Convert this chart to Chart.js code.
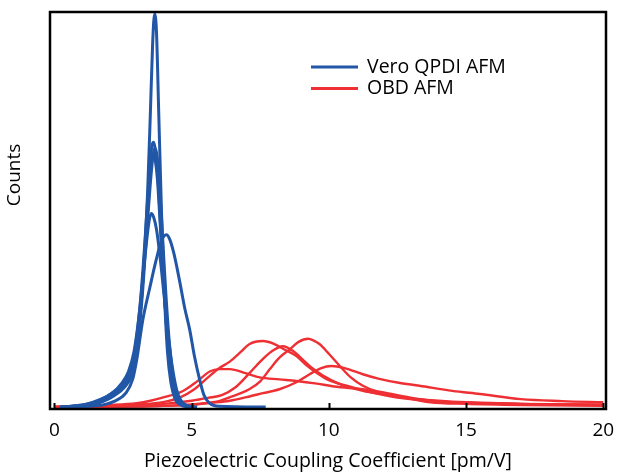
<!DOCTYPE html>
<html>
<head>
<meta charset="utf-8">
<script src="https://cdn.jsdelivr.net/npm/chart.js@4"></script>
<style>
  html, body { margin: 0; padding: 0; background: #fff; }
  #wrap { width: 617px; height: 474px; }
</style>
</head>
<body>
<div id="wrap"><canvas id="chart" width="617" height="474"></canvas></div>
<script>
// Piezo coupling histograms: Vero QPDI (blue, narrow) vs OBD (red, broad).
// Each curve is a list of [pm/V, counts %].

const xTicks = [0, 5, 10, 15, 20];
const seriesNames = ['Vero QPDI AFM', 'OBD AFM'];

const qpdi1 = [[0.2,0],[0.8,0.3],[1.4,1],[1.9,2.5],[2.3,4.5],[2.6,6.5],[2.85,10],[3.05,18],[3.25,35],[3.4,55],[3.5,75],[3.58,92],[3.65,99.5],[3.72,95],[3.8,75],[3.9,50],[4.0,30],[4.12,14],[4.25,6],[4.4,2],[4.6,0.5],[4.9,0]];
const qpdi2 = [[0.3,0],[1.0,0.5],[1.6,1.5],[2.1,3.5],[2.5,6],[2.75,9],[2.95,15],[3.15,28],[3.3,42],[3.45,58],[3.55,66],[3.62,67],[3.7,64],[3.8,55],[3.9,42],[4.0,30],[4.12,17],[4.25,8],[4.4,3],[4.6,0.8],[5.0,0]];
const qpdi3 = [[0.5,0],[1.2,0.4],[1.8,1.5],[2.2,3],[2.55,5],[2.8,8],[3.0,14],[3.2,28],[3.35,43],[3.5,57],[3.6,64],[3.67,65.5],[3.75,63],[3.85,54],[3.95,42],[4.05,30],[4.18,17],[4.3,9],[4.45,3.5],[4.65,1],[5.0,0]];
const qpdi4 = [[0.4,0],[1.1,0.6],[1.7,2],[2.1,3.5],[2.45,6],[2.7,9],[2.9,14],[3.1,24],[3.3,38],[3.45,47],[3.53,49],[3.62,48],[3.72,45],[3.85,38],[4.0,28],[4.15,18],[4.3,10],[4.45,4.5],[4.6,1.8],[4.8,0.5],[5.2,0]];
const qpdi5 = [[0.2,0],[1.5,0.3],[2.2,1.5],[2.6,3.5],[2.85,7],[3.0,12],[3.22,22],[3.47,30],[3.7,37],[3.9,42],[4.08,43.6],[4.2,42.5],[4.35,39],[4.56,32],[4.75,25],[4.93,19.6],[5.1,13],[5.29,7],[5.45,3],[5.65,1],[6.0,0.2],[7.7,0]];
const qpdi6 = [[0.6,0],[1.3,0.5],[1.9,2],[2.3,4],[2.6,5.5],[2.8,8],[3.0,15],[3.2,30],[3.35,45],[3.48,58],[3.58,64],[3.66,63],[3.75,58],[3.85,47],[3.95,35],[4.07,22],[4.2,11],[4.35,4.5],[4.55,1.2],[4.9,0]];

const obd1 = [[0,0],[3,0.1],[4,0.3],[5,0.6],[5.5,1],[6,1.5],[6.4,2.5],[7.1,4.5],[7.5,6.5],[7.85,9.6],[8.2,12.5],[8.58,14.6],[8.9,16.5],[9.25,17.3],[9.45,16.8],[9.67,15.9],[10.0,13.5],[10.4,10.4],[10.8,7.5],[11.24,5.4],[11.8,3.8],[12.5,2.8],[13.7,1.2],[15,0.8],[17,0.5],[20,0.3]];
const obd2 = [[0,0],[1,0.1],[2,0.3],[3,0.6],[4,1.3],[4.6,2.5],[5.1,4.5],[5.6,7.5],[6.0,9.8],[6.39,11.5],[6.8,14],[7.1,15.9],[7.6,16.7],[8.0,16],[8.4,14.5],[8.82,12.9],[9.2,10.5],[9.55,8.7],[10.0,6.8],[10.65,5.4],[11.5,3.8],[12.5,2.4],[14,1.4],[16,0.9],[18,0.6],[20,0.5]];
const obd3 = [[0,0],[2,0.2],[3,0.4],[4,0.8],[5,1.6],[5.6,2.3],[6.1,3],[6.6,5],[7.1,8.5],[7.5,11.5],[7.9,14],[8.33,15.4],[8.7,14.2],[9.05,12],[9.4,9.8],[9.8,7.9],[10.4,5.8],[11.24,4.1],[12,3.2],[13,2.2],[14,1.6],[15,1.2],[17,0.8],[20,0.6]];
const obd4 = [[0,0],[1,0.2],[2,0.5],[3,1],[3.5,1.6],[4.0,2.5],[4.67,4],[5.2,6.5],[5.66,9],[6.0,9.6],[6.39,9.6],[7.0,8.5],[7.48,7.5],[8.2,7],[8.82,6.6],[9.5,6],[10.2,5.2],[11.24,4.5],[12,3.7],[12.8,2.6],[13.7,1.6],[15,1.1],[17,0.8],[20,0.6]];
const obd5 = [[0,0],[2,0.1],[4,0.3],[5,0.6],[5.8,1.1],[6.39,1.6],[7.0,2.5],[7.6,3.5],[8.2,4.5],[8.8,6.2],[9.3,8.3],[9.7,9.8],[10.1,10.4],[10.6,9.8],[11.24,8.3],[11.8,7.2],[12.5,6.2],[13.3,5.4],[14.5,4.1],[15.5,3.3],[17.0,2.0],[18.5,1.5],[20,1.2]];

const COLORS = { blue: '#2157a6', red: '#ee3034', frame: '#000', text: '#000' };
const FONT = 'Open Sans';

const blueCurves = [qpdi1, qpdi2, qpdi3, qpdi4, qpdi5, qpdi6];
const redCurves = [obd1, obd2, obd3, obd4, obd5];

const toPts = arr => arr.map(([x, y]) => ({ x, y }));
const curve = (pts, color, width, label) => ({
  label, data: toPts(pts), borderColor: color, backgroundColor: color,
  borderWidth: width, pointRadius: 0, fill: false, cubicInterpolationMode: 'monotone',
});

// blue first so it sits on top of the red ones
const datasets = [
  ...blueCurves.map(c => curve(c, COLORS.blue, 3, seriesNames[0])),
  ...redCurves.map(c => curve(c, COLORS.red, 2.4, seriesNames[1])),
];

// box around the plot + short inward ticks on the bottom edge
const framePlugin = {
  id: 'frame',
  afterDatasetsDraw(chart) {
    const { ctx, chartArea: a, scales: { x } } = chart;
    ctx.save();
    ctx.strokeStyle = COLORS.frame;
    ctx.lineWidth = 2.5;
    ctx.strokeRect(a.left, a.top, a.right - a.left, a.bottom - a.top);
    ctx.lineWidth = 2;
    xTicks.forEach(v => {
      const px = Math.round(x.getPixelForValue(v)) + 0.5;
      ctx.beginPath();
      ctx.moveTo(px, a.bottom);
      ctx.lineTo(px, a.bottom - 6);
      ctx.stroke();
    });
    ctx.restore();
  },
};

// legend inside the plot, and the y title sitting a bit above centre
const labelsPlugin = {
  id: 'innerLabels',
  afterDraw(chart) {
    const { ctx } = chart;
    const items = [[seriesNames[0], COLORS.blue], [seriesNames[1], COLORS.red]];
    ctx.save();
    ctx.font = `19.5px "${FONT}"`;
    ctx.textBaseline = 'middle';
    items.forEach(([name, color], i) => {
      const y = 67 + i * 21.5;
      ctx.strokeStyle = color;
      ctx.lineWidth = 3;
      ctx.beginPath();
      ctx.moveTo(311, y);
      ctx.lineTo(358, y);
      ctx.stroke();
      ctx.fillStyle = COLORS.text;
      ctx.fillText(name, 367, y);
    });

    ctx.font = `19px "${FONT}"`;
    ctx.textAlign = 'center';
    ctx.translate(15, 175);
    ctx.rotate(-Math.PI / 2);
    ctx.fillText('Counts', 0, 0);
    ctx.restore();
  },
};

new Chart(document.getElementById('chart'), {
  type: 'line',
  data: { datasets },
  plugins: [framePlugin, labelsPlugin],
  options: {
    responsive: false, animation: false,
    layout: { padding: { top: 12, right: 11, left: 0, bottom: 0 } },
    plugins: { legend: { display: false }, tooltip: { enabled: false } },
    scales: {
      x: {
        type: 'linear', min: -0.16, max: 20.1,
        afterBuildTicks: s => { s.ticks = xTicks.map(v => ({ value: v })); },
        afterFit: s => { s.height = 65; s.paddingLeft = 0; s.paddingRight = 0; },
        grid: { display: false }, border: { display: false },
        ticks: { color: COLORS.text, padding: 2, maxRotation: 0, font: { family: FONT, size: 19 } },
        title: { display: true, text: 'Piezoelectric Coupling Coefficient [pm/V]', color: COLORS.text, padding: { top: 0, bottom: 1 }, font: { family: FONT, size: 19.5 } },
      },
      y: {
        min: -0.5, max: 100,
        afterFit: s => { s.width = 50; },
        grid: { display: false }, border: { display: false },
        ticks: { display: false },
        title: { display: false },
      },
    },
  },
});
</script>
</body>
</html>
